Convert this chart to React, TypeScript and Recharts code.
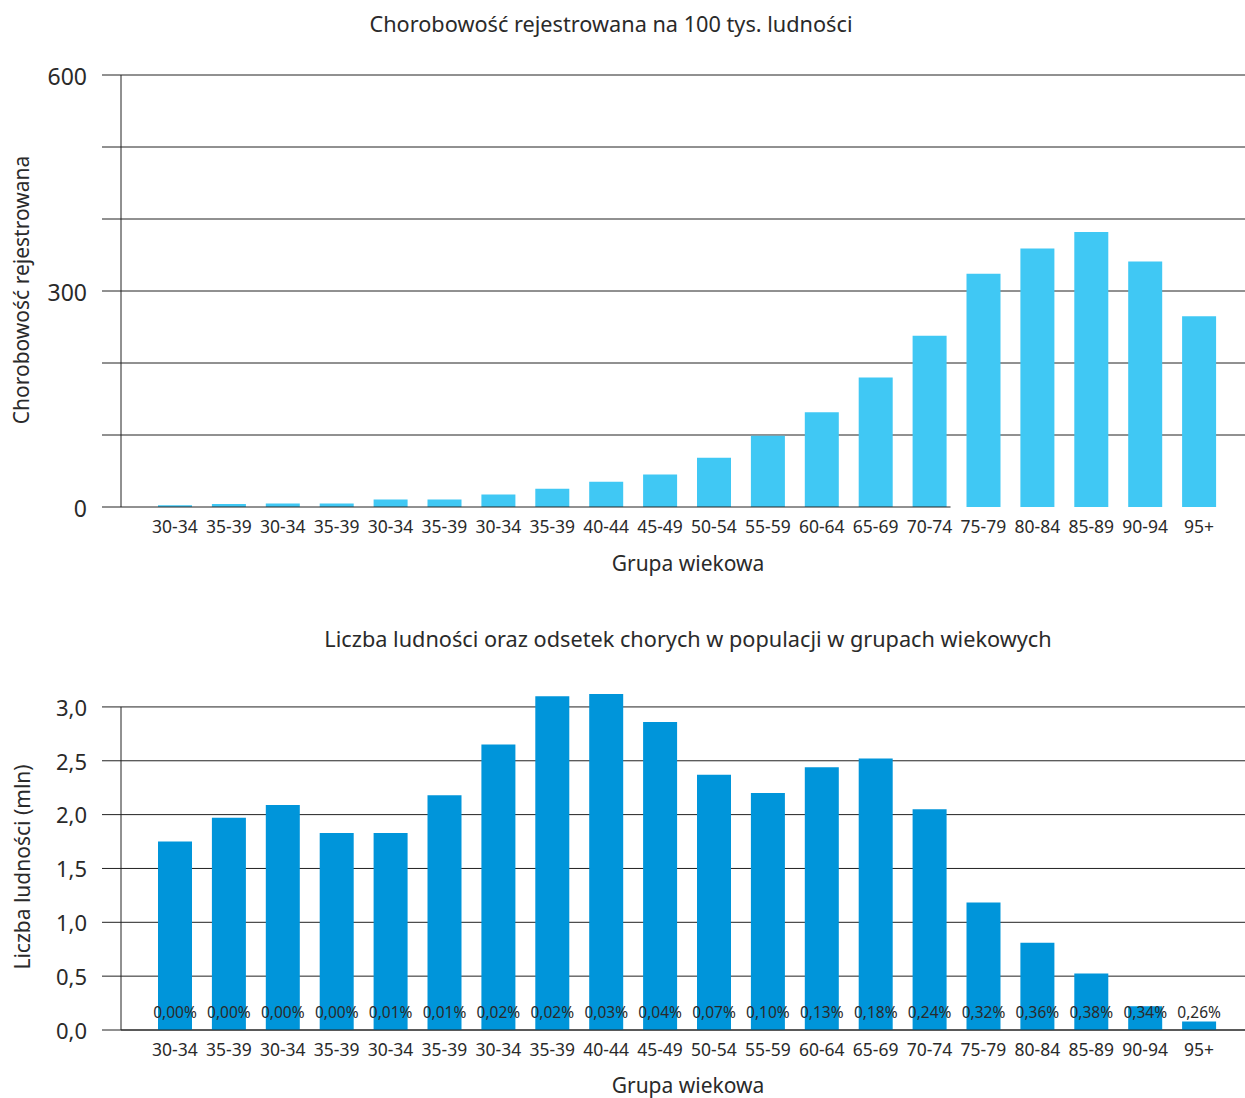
import { BarChart, Bar, XAxis, YAxis, CartesianGrid, LabelList } from 'recharts';

const categories = ['30-34', '35-39', '30-34', '35-39', '30-34', '35-39', '30-34', '35-39', '40-44', '45-49', '50-54', '55-59', '60-64', '65-69', '70-74', '75-79', '80-84', '85-89', '90-94', '95+'];
const incidence = [2.5, 4, 5, 5, 10.5, 10.5, 17.5, 25.5, 35, 45, 68.5, 99, 131.5, 180, 238, 324, 359, 382, 341, 265];
const population = [1.75, 1.97, 2.09, 1.83, 1.83, 2.18, 2.65, 3.1, 3.12, 2.86, 2.37, 2.2, 2.44, 2.52, 2.05, 1.185, 0.81, 0.525, 0.22, 0.08];
const sickShare = ['0,00%', '0,00%', '0,00%', '0,00%', '0,01%', '0,01%', '0,02%', '0,02%', '0,03%', '0,04%', '0,07%', '0,10%', '0,13%', '0,18%', '0,24%', '0,32%', '0,36%', '0,38%', '0,34%', '0,26%'];
const incidenceTicks = [0, 100, 200, 300, 400, 500, 600];
const incidenceGrid = [100, 200, 300, 400, 500, 600];
const populationTicks = [0, 0.5, 1, 1.5, 2, 2.5, 3];

const data = categories.map((group, i) => ({
  group,
  incidence: incidence[i],
  population: population[i],
  share: sickShare[i],
}));

const FONT = '"Noto Sans", sans-serif';
const INK = '#222';
const TEXT = '#2a2a2a';

const W = 1245;
const PAD_L = 27;
const PAD_R = 19;
const BAR = 34;

// top chart plot area: x 121..1245, y 75..507
const TOP_H = 590;
const topPlotW = W - 121;
const band = (topPlotW - PAD_L - PAD_R) / categories.length;
// baseline stops just after the 70-74 bar
const baseLen = PAD_L + 14 * band + band / 2 + BAR / 2 + 4;

// bottom chart: y 694..1030, line of y axis only up to 3,0
const BOT_TOP = 600;
const botPlotH = 1030 - 694;
const popMax = Math.max(...population);
const yGap = botPlotH * (1 - populationTicks[populationTicks.length - 1] / popMax);

const fmtPop = (v: number) => v.toFixed(1).replace('.', ',');

function Caption({ text, x, y, size, rotate }: { text: string; x: number; y: number; size: number; rotate?: boolean }) {
  return (
    <div
      style={{
        position: 'absolute',
        left: x - 400,
        top: y - 15,
        width: 800,
        height: 30,
        lineHeight: '30px',
        textAlign: 'center',
        fontSize: size,
        color: TEXT,
        whiteSpace: 'nowrap',
        transform: rotate ? 'rotate(-90deg)' : undefined,
      }}
    >
      {text}
    </div>
  );
}

export default function App() {
  return (
    <div style={{ position: 'absolute', left: 0, top: 0, width: W, height: 1098, fontFamily: FONT, background: '#fff' }}>
      <Caption text="Chorobowość rejestrowana na 100 tys. ludności" x={611} y={24} size={21.7} />
      <Caption text="Grupa wiekowa" x={688} y={563} size={21} />
      <Caption text="Chorobowość rejestrowana" x={21} y={290} size={21} rotate />

      <div style={{ position: 'absolute', left: 0, top: 0 }}>
        <BarChart width={W} height={TOP_H} data={data} margin={{ top: 75, right: 0, bottom: TOP_H - 507 - 30, left: 41 }}>
          <CartesianGrid vertical={false} stroke={INK} horizontalValues={incidenceGrid} />
          <XAxis
            dataKey="group"
            height={30}
            padding={{ left: PAD_L, right: PAD_R }}
            tickLine={false}
            tickSize={0}
            tickMargin={14}
            axisLine={{ stroke: INK, strokeDasharray: `${baseLen} 3000` }}
            tick={{ fill: TEXT, fontSize: 17.5, fontFamily: FONT }}
            interval={0}
          />
          <YAxis
            width={80}
            domain={[0, 600]}
            ticks={incidenceTicks}
            tickFormatter={(v: number) => (v % 300 === 0 ? String(v) : '')}
            tickSize={19}
            tickMargin={15}
            tickLine={{ stroke: INK }}
            axisLine={{ stroke: INK }}
            tick={{ fill: TEXT, fontSize: 23, fontFamily: FONT, dy: 2 }}
          />
          <Bar dataKey="incidence" fill="#40C8F4" barSize={BAR} isAnimationActive={false} />
        </BarChart>
      </div>

      <Caption text="Liczba ludności oraz odsetek chorych w populacji w grupach wiekowych" x={688} y={639} size={21.7} />
      <Caption text="Grupa wiekowa" x={688} y={1085} size={21} />
      <Caption text="Liczba ludności (mln)" x={22} y={867} size={21} rotate />

      <div style={{ position: 'absolute', left: 0, top: BOT_TOP }}>
        <BarChart width={W} height={498} data={data} margin={{ top: 94, right: 0, bottom: 498 - 430 - 30, left: 41 }}>
          <CartesianGrid vertical={false} stroke={INK} horizontalValues={populationTicks} />
          <XAxis
            dataKey="group"
            height={30}
            padding={{ left: PAD_L, right: PAD_R }}
            tickLine={false}
            tickSize={0}
            tickMargin={14}
            axisLine={{ stroke: INK }}
            tick={{ fill: TEXT, fontSize: 17.5, fontFamily: FONT }}
            interval={0}
          />
          <YAxis
            width={80}
            domain={[0, 'dataMax']}
            ticks={populationTicks}
            tickFormatter={fmtPop}
            tickSize={19}
            tickMargin={15}
            tickLine={{ stroke: INK }}
            axisLine={{ stroke: INK, strokeDasharray: `0 ${yGap} 3000` }}
            tick={{ fill: TEXT, fontSize: 22, fontFamily: FONT, dy: 1 }}
          />
          <Bar dataKey="population" fill="#0095DA" barSize={BAR} isAnimationActive={false}>
            <LabelList dataKey="share" position="insideBottom" offset={12} fill={TEXT} fontSize={15.5} fontFamily={FONT} />
          </Bar>
        </BarChart>
      </div>
    </div>
  );
}
